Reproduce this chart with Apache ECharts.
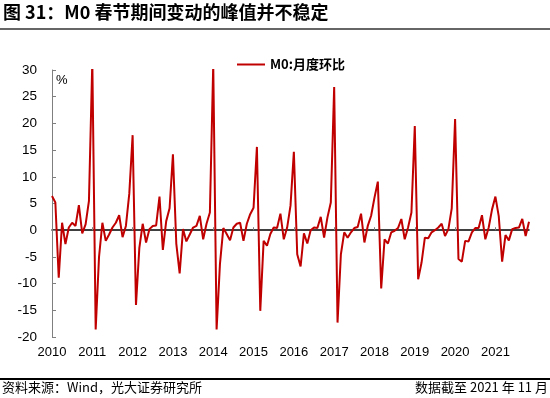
<!DOCTYPE html>
<html>
<head>
<meta charset="utf-8">
<script src="https://cdn.jsdelivr.net/npm/echarts@6/dist/echarts.min.js"></script>
<style>
html,body{margin:0;padding:0;background:#fff;}
#chart{width:550px;height:398px;}
</style>
</head>
<body>
<div id="chart"></div>
<script>
// Years shown on the x axis (data runs monthly from 2010-01 to 2021-11)
var years = ['2010','2011','2012','2013','2014','2015','2016','2017','2018','2019','2020','2021'];
var lastYearMonths = 11;

// M0 month-on-month change (%)
var m0Mom = [
  6.4, 5.2, -8.9, 1.4, -2.6, 0.5, 1.4, 0.8, 4.7, -0.6, 1.1, 5.5,          // 2010
  31.6, -18.6, -5.0, 1.4, -2.0, -0.8, 0.5, 1.4, 2.8, -1.3, 0.8, 6.8,      // 2011
  17.8, -14.0, -3.3, 1.2, -2.3, 0.2, 0.8, 0.9, 6.3, -3.7, 1.7, 4.1,       // 2012
  14.2, -2.5, -8.1, 0.2, -2.1, -0.8, 0.5, 0.8, 2.7, -1.7, 1.2, 3.3,       // 2013
  31.0, -18.6, -6.3, 0.4, -0.7, -1.9, 0.5, 1.2, 1.4, -2.0, 1.2, 3.0,      // 2014
  4.2, 15.6, -15.1, -2.0, -2.9, -0.7, 0.5, 0.4, 3.1, -1.7, 0.5, 4.6,      // 2015
  14.7, -4.5, -6.8, -0.6, -2.5, 0.0, 0.5, 0.4, 2.5, -1.4, 2.4, 5.2,       // 2016
  26.8, -17.3, -4.5, -0.4, -1.4, -0.4, 0.4, 0.6, 3.1, -2.3, 0.8, 2.7,     // 2017
  6.1, 9.1, -10.9, -1.7, -2.5, -0.4, -0.1, 0.4, 2.1, -1.7, 0.5, 3.3,      // 2018
  19.5, -9.2, -6.1, -1.4, -1.5, -0.4, 0.0, 0.5, 1.2, -1.1, 0.2, 4.1,      // 2019
  20.8, -5.4, -5.9, -2.0, -2.1, -0.4, 0.4, 0.4, 2.8, -1.7, 0.5, 3.9,      // 2020
  6.3, 2.6, -5.9, -0.9, -1.9, 0.2, 0.4, 0.5, 2.1, -1.1, 1.6               // 2021 (to Nov)
];

var yTicks = { min: -20, max: 30, step: 5 };

var seriesName = 'M0:月度环比';
var titleText = '图 31：M0 春节期间变动的峰值并不稳定';
var sourceText = '资料来源：Wind，光大证券研究所';
var dateText = '数据截至 2021 年 11 月';

var months = [];
years.forEach(function (y, yi) {
  var n = (yi === years.length - 1) ? lastYearMonths : 12;
  for (var m = 1; m <= n; m++) months.push(y + '-' + (m < 10 ? '0' + m : m));
});

var numFont = '"Liberation Sans", Arial, sans-serif';
var cjkFont = '"Noto Sans CJK SC", "Liberation Sans", sans-serif';
var yearStart = function (i) { return i % 12 === 0; };

var chart = echarts.init(document.getElementById('chart'), null, { renderer: 'canvas' });
chart.setOption({
  animation: false,
  backgroundColor: '#ffffff',
  grid: { left: 52, right: 21, top: 70, bottom: 61, containLabel: false, outerBoundsMode: 'none' },
  legend: {
    data: [seriesName],
    left: 232, top: 53,
    icon: 'rect',
    itemWidth: 28, itemHeight: 2, itemGap: 3,
    textStyle: { fontFamily: cjkFont, fontSize: 13, fontWeight: 'bold', color: '#000' }
  },
  xAxis: [{
    // year labels along the bottom of the plot
    type: 'category',
    data: months,
    boundaryGap: false,
    position: 'bottom',
    axisLine: { show: false, onZero: false },
    axisTick: { show: false },
    axisLabel: {
      interval: yearStart,
      formatter: function (v) { return v.slice(0, 4); },
      margin: 9,
      hideOverlap: false,
      fontFamily: numFont, fontSize: 13, color: '#000'
    },
    splitLine: { show: false }
  }, {
    // zero line with yearly ticks
    type: 'category',
    data: months,
    boundaryGap: false,
    position: 'bottom',
    axisLine: { show: true, onZero: true, lineStyle: { color: '#000', width: 1.5 } },
    axisTick: {
      show: true, inside: true, length: 3,
      interval: yearStart,
      lineStyle: { color: '#7f7f7f', width: 1 }
    },
    axisLabel: { show: false },
    splitLine: { show: false }
  }],
  yAxis: {
    type: 'value',
    min: yTicks.min, max: yTicks.max, interval: yTicks.step,
    axisLine: { show: true, lineStyle: { color: '#7f7f7f', width: 1 } },
    axisTick: { show: true, inside: true, length: 4, lineStyle: { color: '#7f7f7f' } },
    axisLabel: { margin: 15, fontFamily: numFont, fontSize: 13.5, color: '#000' },
    splitLine: { show: false }
  },
  series: [{
    name: seriesName,
    type: 'line',
    xAxisIndex: 0,
    data: m0Mom,
    symbol: 'none',
    clip: true,
    lineStyle: { color: '#C00000', width: 2 },
    itemStyle: { color: '#C00000' }
  }],
  graphic: [
    { type: 'text', left: 3, top: 3, style: { text: titleText, fontFamily: cjkFont, fontSize: 18, fontWeight: 'bold', fill: '#000' } },
    { type: 'line', shape: { x1: 0, y1: 29, x2: 550, y2: 29 }, style: { stroke: '#333', lineWidth: 1.5 } },
    { type: 'text', left: 56, top: 74, style: { text: '%', fontFamily: numFont, fontSize: 13, fill: '#000' } },
    { type: 'line', shape: { x1: 0, y1: 379, x2: 550, y2: 379 }, style: { stroke: '#000', lineWidth: 2 } },
    { type: 'text', left: 2, top: 381, style: { text: sourceText, fontFamily: cjkFont, fontSize: 13, fill: '#000' } },
    { type: 'text', right: 2, top: 381, style: { text: dateText, fontFamily: cjkFont, fontSize: 13, fill: '#000' } }
  ]
});
</script>
</body>
</html>
